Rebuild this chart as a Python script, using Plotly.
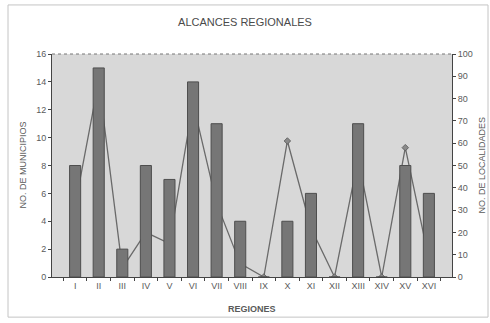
import plotly.graph_objects as go

regiones = ["I", "II", "III", "IV", "V", "VI", "VII", "VIII",
            "IX", "X", "XI", "XII", "XIII", "XIV", "XV", "XVI"]
municipios = [8, 15, 2, 8, 7, 14, 11, 4, 0, 4, 6, 0, 11, 0, 8, 6]
localidades = [32, 88, 4, 20, 15, 78, 33, 6, 0, 61, 22, 0, 53, 0, 58, 8]

TXT = "#5a5a5a"
FONT = "Liberation Sans, Arial, sans-serif"

fig = go.Figure()
# line sits on the base axis so the bars (overlay axis) are drawn over it
fig.add_trace(go.Scatter(
    x=regiones, y=localidades, mode="lines+markers", name="Localidades",
    line=dict(color="#6a6a6a", width=1.3),
    marker=dict(symbol="diamond", size=5, color="#8a8a8a", line=dict(color="#555", width=0.8)),
    yaxis="y"))
fig.add_trace(go.Bar(
    x=regiones, y=municipios, name="Municipios", width=0.47,
    marker=dict(color="#767676", line=dict(color="#4e4e4e", width=1)),
    yaxis="y2"))

axis_font = dict(family=FONT, size=9, color=TXT)
title_font = dict(family=FONT, size=9, color=TXT)
fig.update_layout(
    width=490, height=323,
    margin=dict(l=52, r=38, t=54, b=46, autoexpand=False),
    paper_bgcolor="white", plot_bgcolor="#d8d8d8",
    showlegend=False,
    font=dict(family=FONT, color=TXT),
    title=dict(text="ALCANCES REGIONALES", x=0.5, xanchor="center", y=0.932, yanchor="middle",
               font=dict(family=FONT, size=11, color="#4a4a4a")),
    xaxis=dict(type="category", tickfont=axis_font, tickangle=0, showgrid=False, showline=True,
               linecolor="#444", linewidth=1, ticks="outside", ticklen=3, tickson="boundaries",
               tickcolor="#444", automargin=False),
    yaxis=dict(side="right", range=[0, 100], dtick=10, showgrid=False, zeroline=False,
               showline=True, linecolor="#444", linewidth=1, ticks="outside", ticklen=3,
               tickcolor="#444", tickfont=axis_font, automargin=False),
    yaxis2=dict(side="left", overlaying="y", range=[0, 16], dtick=2, showgrid=False, zeroline=False,
                showline=True, linecolor="#444", linewidth=1, ticks="outside", ticklen=3,
                tickcolor="#444", tickfont=axis_font, automargin=False),
    annotations=[
        dict(text="<b>REGIONES</b>", xref="paper", yref="paper", x=0.5, y=-0.143,
             showarrow=False, font=title_font, xanchor="center", yanchor="middle"),
        dict(text="NO. DE MUNICIPIOS", xref="paper", yref="paper", x=-0.075, y=0.5,
             showarrow=False, font=title_font, textangle=-90, xanchor="center", yanchor="middle"),
        dict(text="NO. DE LOCALIDADES", xref="paper", yref="paper", x=1.0725, y=0.5,
             showarrow=False, font=title_font, textangle=-90, xanchor="center", yanchor="middle"),
    ],
    shapes=[
        dict(type="line", xref="paper", yref="paper", x0=0, x1=1, y0=1, y1=1,
             line=dict(color="#777", width=1, dash="dot")),
        dict(type="rect", xref="paper", yref="paper", x0=-0.11, x1=1.09, y0=-0.18, y1=1.22,
             line=dict(color="#c4c4c4", width=1), layer="below"),
    ],
)

# drop the default 8px page margin so the figure fills the window
fig.write_html("out.html", config={"displayModeBar": False},
               post_script="document.body.style.margin='0';")
